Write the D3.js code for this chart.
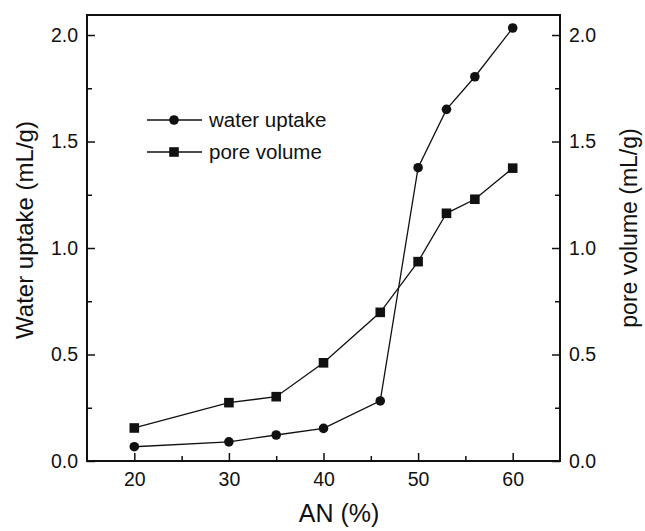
<!DOCTYPE html>
<html>
<head>
<meta charset="utf-8">
<script src="https://cdn.jsdelivr.net/npm/d3@7"></script>
<style>
body { margin: 0; background: #fff; }
text { font-family: "Liberation Sans", Arial, sans-serif; fill: #111; }
</style>
</head>
<body>
<script>
const w = 645
const h = 531
const margin = {top: 15, right: 85, bottom: 70, left: 87}

const anPercent = [20, 30, 35, 40, 46, 50, 53, 56, 60]
const waterUptake = [0.067, 0.09, 0.122, 0.153, 0.282, 1.377, 1.651, 1.804, 2.033]
const poreVolume = [0.155, 0.274, 0.302, 0.461, 0.698, 0.936, 1.163, 1.229, 1.375]
const xTicks = [20, 30, 40, 50, 60]
const yTicks = [0, 0.5, 1.0, 1.5, 2.0]
const seriesNames = ["water uptake", "pore volume"]

const svg = d3.select("body").append("svg")
	.attr("width", w).attr("height", h)

const x = d3.scaleLinear().domain([15, 65]).range([margin.left, w - margin.right])
const y = d3.scaleLinear().domain([0, 2.094]).range([h - margin.bottom, margin.top])
const y2 = d3.scaleLinear().domain([0, 2.094]).range([h - margin.bottom, margin.top])

const x0 = x.range()[0], x1 = x.range()[1]
const yb = y.range()[0], yt = y.range()[1]

// frame
svg.append("rect")
	.attr("x", x0).attr("y", yt)
	.attr("width", x1 - x0).attr("height", yb - yt)
	.attr("fill", "none").attr("stroke", "#111").attr("stroke-width", 2)

// bottom axis, ticks point inward
const xAxis = svg.append("g").attr("transform", `translate(0,${yb})`)
	.call(d3.axisBottom(x).tickValues(xTicks).tickSize(-8).tickPadding(11).tickFormat(d3.format("d")))
xAxis.append("g").call(d3.axisBottom(x).tickValues([25, 35, 45, 55]).tickSize(-5).tickFormat(""))

const yAxis = svg.append("g").attr("transform", `translate(${x0},0)`)
	.call(d3.axisLeft(y).tickValues(yTicks).tickSize(-8).tickPadding(9).tickFormat(d3.format(".1f")))
yAxis.append("g").call(d3.axisLeft(y).tickValues([0.25, 0.75, 1.25, 1.75]).tickSize(-5).tickFormat(""))

const yAxis2 = svg.append("g").attr("transform", `translate(${x1},0)`)
	.call(d3.axisRight(y2).tickValues(yTicks).tickSize(-8).tickPadding(9).tickFormat(d3.format(".1f")))
yAxis2.append("g").call(d3.axisRight(y2).tickValues([0.25, 0.75, 1.25, 1.75]).tickSize(-5).tickFormat(""))

svg.selectAll(".domain").remove()
svg.selectAll(".tick line").attr("stroke", "#111").attr("stroke-width", 1.5)
svg.selectAll(".tick text").attr("font-size", 19.5).attr("fill", "#111")
	.style("font-family", "Liberation Sans, Arial, sans-serif")

// axis titles
svg.append("text")
	.attr("x", 339).attr("y", 522)
	.attr("text-anchor", "middle").attr("font-size", 25)
	.text("AN (%)")

svg.append("text")
	.attr("transform", "translate(33,230) rotate(-90)")
	.attr("text-anchor", "middle").attr("font-size", 24)
	.text("Water uptake (mL/g)")

svg.append("text")
	.attr("transform", "translate(637,228) rotate(-90)")
	.attr("text-anchor", "middle").attr("font-size", 23)
	.text("pore volume (mL/g)")

// series
const water = anPercent.map((a, i) => ({a, v: waterUptake[i]}))
const pore = anPercent.map((a, i) => ({a, v: poreVolume[i]}))

const line = d3.line().x(d => x(d.a)).y(d => y(d.v))
const line2 = d3.line().x(d => x(d.a)).y(d => y2(d.v))

svg.append("path").attr("d", line(water))
	.attr("fill", "none").attr("stroke", "#111").attr("stroke-width", 1.3)
svg.append("path").attr("d", line2(pore))
	.attr("fill", "none").attr("stroke", "#111").attr("stroke-width", 1.3)

svg.selectAll(".wpt").data(water).enter().append("circle")
	.attr("cx", d => x(d.a)).attr("cy", d => y(d.v)).attr("r", 4.8)
	.attr("fill", "#111")

svg.selectAll(".ppt").data(pore).enter().append("rect")
	.attr("x", d => x(d.a) - 4.8).attr("y", d => y2(d.v) - 4.8)
	.attr("width", 9.6).attr("height", 9.6)
	.attr("fill", "#111")

// legend
const legend = svg.append("g").attr("transform", "translate(147,120)")
seriesNames.forEach((name, i) => {
	const g = legend.append("g").attr("transform", `translate(0,${i * 32})`)
	g.append("line").attr("x1", 0).attr("x2", 55).attr("y1", 0).attr("y2", 0)
		.attr("stroke", "#111").attr("stroke-width", 1.3)
	if (i === 0) {
		g.append("circle").attr("cx", 27).attr("cy", 0).attr("r", 4.8).attr("fill", "#111")
	} else {
		g.append("rect").attr("x", 22.2).attr("y", -4.8).attr("width", 9.6).attr("height", 9.6).attr("fill", "#111")
	}
	g.append("text").attr("x", 62).attr("y", 7).attr("font-size", 20.5).text(name)
})
</script>
</body>
</html>
